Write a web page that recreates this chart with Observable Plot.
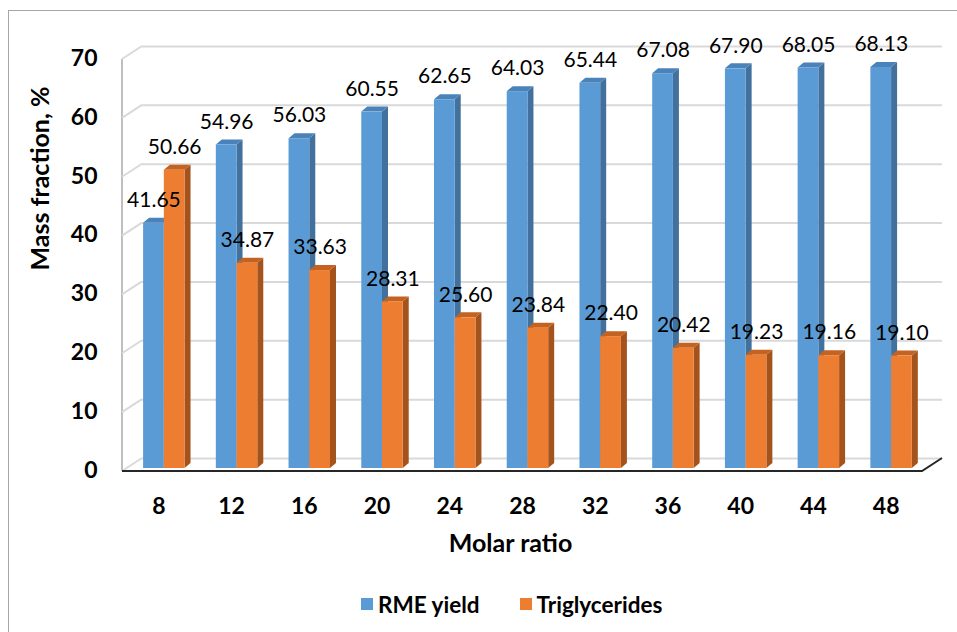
<!DOCTYPE html>
<html>
<head>
<meta charset="utf-8">
<script src="https://cdn.jsdelivr.net/npm/d3@7"></script>
<script src="https://cdn.jsdelivr.net/npm/@observablehq/plot@0.6"></script>
<style>
  html, body { margin: 0; padding: 0; background: #fff; }
  body { position: relative; width: 957px; height: 632px; overflow: hidden; font-family: Lato, "Open Sans", sans-serif; }
  #frame { position: absolute; left: 8px; top: 10px; width: 1000px; height: 700px;
           border-top: 1.5px solid #A6A6A6; border-left: 1.5px solid #A6A6A6; box-sizing: border-box; }
  #chart { position: absolute; left: 0; top: 0; }
  #legend { position: absolute; top: 592px; left: 361px; height: 24px; display: flex; align-items: center;
            font-weight: bold; font-size: 22.5px; color: #000; }
  .item { display: flex; align-items: center; margin-right: 40px; }
  .sw { width: 12px; height: 12px; margin-right: 5px; }
</style>
</head>
<body>
<div id="frame"></div>
<div id="chart"></div>
<div id="legend"></div>
<script>
// ---- data ----
const ratios = ["8", "12", "16", "20", "24", "28", "32", "36", "40", "44", "48"];
const rmeYield = [41.65, 54.96, 56.03, 60.55, 62.65, 64.03, 65.44, 67.08, 67.90, 68.05, 68.13];
const triglycerides = [50.66, 34.87, 33.63, 28.31, 25.60, 23.84, 22.40, 20.42, 19.23, 19.16, 19.10];
const seriesNames = ["RME yield", "Triglycerides"];
const yTicks = [0, 10, 20, 30, 40, 50, 60, 70];

// ---- styles ----
const frontColors = ["#5B9BD5", "#ED7D31"];
const sideColors = ["#41719C", "#A5531C"];
const topColors = ["#4A82BA", "#C4621F"];
const gridColor = "#D9D9D9";

const rows = [];
ratios.forEach((r, i) => {
  rows.push({ratio: r, i, s: 0, value: rmeYield[i]});
  rows.push({ratio: r, i, s: 1, value: triglycerides[i]});
});

const BAR0 = 0.29, BARW = 0.285;      // bar placement inside a category slot
const bx1 = d => d.i + BAR0 + d.s * BARW;
const bx2 = d => d.i + BAR0 + (d.s + 1) * BARW;
const DX = 6, DY = 5;                  // bar depth (px)
const WX = 20, FRONT = 3, BACK = -10;  // wall depth (px)

function barFaces(series) {
  return (index, scales) => {
    const g = d3.create("svg:g");
    rows.filter(d => d.s === series).forEach(d => {
      const a = scales.x(bx1(d)), b = scales.x(bx2(d));
      const t = scales.y(d.value), z = scales.y(0);
      g.append("path")
        .attr("d", `M${b},${t}L${b + DX},${t - DY}L${b + DX},${z - DY}L${b},${z}Z`)
        .attr("fill", sideColors[series]);
      g.append("path")
        .attr("d", `M${a},${t}L${a + DX},${t - DY}L${b + DX},${t - DY}L${b},${t}Z`)
        .attr("fill", topColors[series]);
    });
    return g.node();
  };
}

function walls(index, scales) {
  const g = d3.create("svg:g").attr("fill", "none");
  const xl = scales.x(0), xr = scales.x(ratios.length);
  const y0 = scales.y(0), yTop = scales.y(yTicks[yTicks.length - 1]);
  // left wall: vertical front edge and slanted grid lines
  g.append("line").attr("x1", xl).attr("x2", xl).attr("y1", y0 + FRONT).attr("y2", yTop + FRONT)
    .attr("stroke", "#BFBFBF").attr("stroke-width", 2);
  yTicks.forEach(v => {
    const y = scales.y(v);
    g.append("line").attr("x1", xl).attr("y1", y + FRONT).attr("x2", xl + WX).attr("y2", y + BACK)
      .attr("stroke", gridColor).attr("stroke-width", 2);
  });
  // floor front edge + right edge
  g.append("path")
    .attr("d", `M${xl},${y0 + FRONT}L${xr},${y0 + FRONT}L${xr + WX},${y0 + BACK}`)
    .attr("stroke", "#262626").attr("stroke-width", 2);
  return g.node();
}

const chart = Plot.plot({
  width: 957,
  height: 580,
  marginLeft: 122,
  marginRight: 35,
  marginTop: 56,
  marginBottom: 112,
  style: {fontFamily: "Lato, 'Open Sans', sans-serif", overflow: "visible", background: "transparent"},
  x: {domain: [0, ratios.length]},
  y: {domain: [0, 70]},
  marks: [
    Plot.ruleY(yTicks, {y: d => d, dx: WX, dy: BACK, stroke: gridColor, strokeWidth: 2}),
    walls,
    barFaces(0),
    barFaces(1),
    Plot.rect(rows.filter(d => d.s === 0), {x1: bx1, x2: bx2, y1: 0, y2: "value", fill: frontColors[0]}),
    Plot.rect(rows.filter(d => d.s === 1), {x1: bx1, x2: bx2, y1: 0, y2: "value", fill: frontColors[1]}),
    Plot.text(rows, {
      x: d => (bx1(d) + bx2(d)) / 2, y: "value", text: d => d.value.toFixed(2),
      dy: -23, fontSize: 21, fill: "#000"
    }),
    Plot.axisY({ticks: yTicks, tickSize: 0, tickPadding: 25, dy: 2, fontSize: 23, fontWeight: "bold", label: null}),
    Plot.axisX({
      ticks: ratios.map((_, i) => i + 0.5), tickFormat: d => ratios[Math.round(d - 0.5)],
      tickSize: 0, tickPadding: 29, fontSize: 23, fontWeight: "bold", label: null
    }),
    Plot.text(["Mass fraction, %"], {
      text: d => d, frameAnchor: "left", rotate: -90, dx: -82, dy: 8,
      fontSize: 25, fontWeight: "bold", fill: "#000"
    }),
    Plot.text(["Molar ratio"], {
      text: d => d, frameAnchor: "bottom", dx: -12, dy: 83,
      fontSize: 25, fontWeight: "bold", fill: "#000"
    })
  ]
});
document.getElementById("chart").appendChild(chart);

const legend = document.getElementById("legend");
seriesNames.forEach((name, k) => {
  const item = document.createElement("div");
  item.className = "item";
  const sw = document.createElement("div");
  sw.className = "sw";
  sw.style.background = frontColors[k];
  const label = document.createElement("span");
  label.textContent = name;
  item.appendChild(sw);
  item.appendChild(label);
  legend.appendChild(item);
});
</script>
</body>
</html>
